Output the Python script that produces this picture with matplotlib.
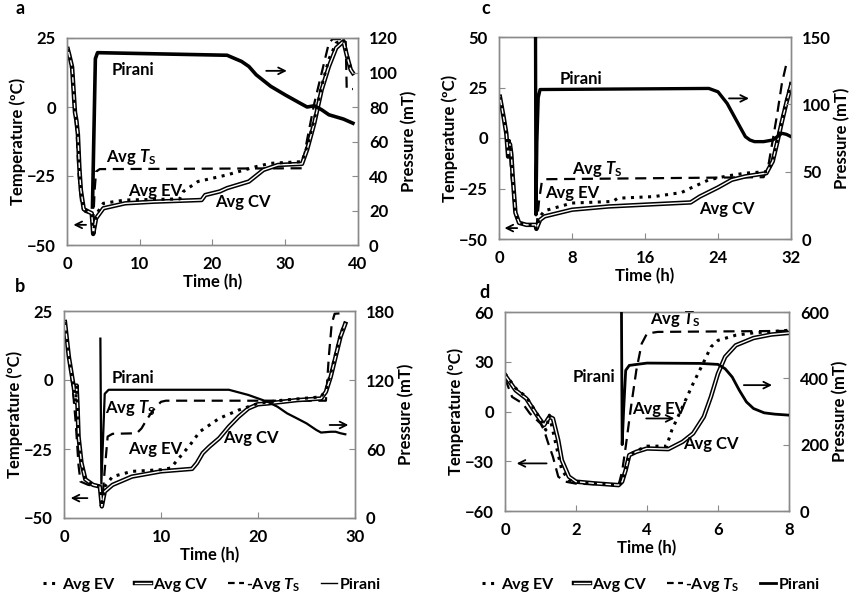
import matplotlib
matplotlib.use("Agg")
import matplotlib.pyplot as plt
import matplotlib.patheffects as pe
from matplotlib.lines import Line2D

plt.rcParams['font.family'] = ['Lato', 'DejaVu Sans']
plt.rcParams['font.weight'] = 'bold'
plt.rcParams['mathtext.fontset'] = 'custom'
plt.rcParams['mathtext.rm'] = 'Lato:bold'
plt.rcParams['mathtext.it'] = 'Lato:bold:italic'
plt.rcParams['mathtext.bf'] = 'Lato:bold'

# ---------------- Panel a ----------------
a_cv_t = [0.1, 0.3, 0.7, 1.1, 1.3, 1.5, 1.7, 1.9, 2.3, 3.0, 3.4, 3.6, 4.0, 5, 8, 12, 18.5, 19, 21, 22, 25, 27, 29, 32.3, 33, 34, 35, 36, 37, 38, 38.5, 39, 39.3]
a_cv = [21, 19, 14.5, -2, -5, -10, -22, -30, -37, -38, -38.5, -46, -40.3, -36.7, -34.9, -34.3, -33.7, -31.9, -30.6, -29.4, -27, -22.8, -21, -20.6, -15.5, -5.8, 6.2, 14.7, 21.4, 23.8, 18.3, 13.5, 12.3]
a_ev_t = [0.1, 0.3, 0.7, 1.1, 1.3, 1.5, 1.7, 1.9, 2.3, 3.0, 3.4, 3.6, 4.0, 5, 8, 15.5, 16, 18, 22, 26, 28, 32.3, 33, 34, 35, 36, 37, 38, 38.5, 39, 39.3]
a_ev = [21, 19, 14.5, -2, -5, -10, -22, -30, -37, -38, -38.5, -46, -39, -34.9, -33.7, -33.3, -30.6, -27, -24.6, -21.6, -20.4, -19.8, -14.3, -4.5, 7.6, 17.3, 23.2, 24.4, 19, 14, 12.5]
a_ts_t = [0.0, 0.3, 0.7, 1.0, 1.3, 1.6, 2.0, 2.5, 3.4, 3.55, 3.8, 4.0, 4.5, 32.3, 33, 34, 35, 36, 36.5, 38.3, 38.45, 39.3]
a_ts = [21, 18, 12, 0, -8, -25, -36, -38, -38.5, -45, -30, -23.4, -22.5, -22.2, -11.9, 1.4, 12.3, 23.2, 24.6, 24.6, 6.5, 6.5]
a_pir_t = [3.5, 3.9, 4.2, 22, 24, 25, 26, 28, 30, 32, 33, 34, 35, 36, 38, 39.3]
a_pir = [22, 108, 111.5, 110, 106.4, 103.5, 98.7, 92, 87, 82.3, 80, 80.7, 78.4, 75.5, 73, 70.6]

# ---------------- Panel b ----------------
b_cv_t = [0.1, 0.5, 1.0, 1.2, 1.3, 1.4, 1.5, 1.8, 2.2, 3.0, 3.7, 3.9, 4.2, 5, 7, 10, 13.2, 13.7, 14.3, 15, 16, 17, 18, 19, 20, 21, 24, 26.5, 27, 27.5, 28, 28.5, 29]
b_cv = [21, 8.4, -2.4, -8, -2, -10, -20.5, -30, -36, -38, -38.6, -45.8, -40.4, -38, -35, -33.1, -32.2, -30.1, -26.5, -24.1, -21.1, -16.9, -13.3, -10.3, -8.8, -8.5, -7.3, -6.7, -4.3, 1.2, 8.4, 15.6, 20.4]
b_ev_t = [0.1, 0.5, 1.0, 1.2, 1.3, 1.4, 1.5, 1.8, 2.2, 3.0, 3.7, 3.9, 4.2, 5, 7, 10, 11, 12, 13, 14, 16, 18, 20, 22, 26.5, 27, 27.5, 28, 28.5, 29]
b_ev = [21, 8.4, -2.4, -8, -2, -10, -20.5, -30, -36, -38, -38.6, -45.8, -38.6, -35, -33.1, -32.5, -31.9, -27.7, -23.5, -18.7, -13.9, -10.9, -8.5, -7.5, -6.1, -3.5, 2.5, 9.5, 16.5, 21]
b_ts_t = [0.1, 0.5, 0.9, 1.2, 1.5, 1.7, 2.5, 3.7, 3.9, 4.2, 4.5, 5, 7.5, 8, 8.5, 9.2, 10, 10.5, 27, 27.3, 27.6, 27.9, 29]
b_ts = [21, 8, -3, -15, -31, -36.8, -38, -38.6, -45.8, -32.5, -20.5, -19.5, -19.3, -17.5, -14.5, -10.9, -7.9, -7.5, -7.5, 8.4, 20.4, 24, 24.3]
b_pir_t = [3.75, 3.85, 4.2, 4.6, 17, 19, 20, 21, 22, 23, 24, 25, 26, 26.5, 27.5, 28, 28.5, 29]
b_pir = [156, 30, 108, 111.5, 111.5, 107, 104, 101, 96.8, 91, 86.7, 82.3, 76.6, 74.3, 75, 75, 73.7, 72.8]

# ---------------- Panel c ----------------
c_cv_t = [0.1, 0.5, 0.8, 1.0, 1.2, 1.35, 1.5, 1.8, 2.2, 3.0, 4.0, 4.1, 4.5, 5, 8, 12, 16, 21, 22, 24, 25.5, 27, 29.3, 30, 30.5, 31, 31.5, 32]
c_cv = [20.4, 10.5, 2.3, -9.2, -3, -8, -19, -37, -42, -43, -43, -45, -40.5, -38.8, -35.5, -33.9, -33, -31.9, -29, -24.5, -20.7, -19, -17.4, -11.5, -2, 8, 17.5, 26]
c_ev_t = [0.1, 0.5, 0.8, 1.0, 1.2, 1.35, 1.5, 1.8, 2.2, 3.0, 4.0, 4.1, 4.5, 5, 8, 12.5, 13, 17, 20, 21, 23, 25, 27, 29.5, 30, 30.5, 31, 31.5, 32]
c_ev = [20.4, 10.5, 2.3, -9.2, -3, -8, -19, -37, -42, -43, -43, -45, -38.8, -36, -32.2, -31.4, -29.8, -29, -27, -24.8, -20.7, -18.8, -17.4, -16.6, -10.9, -1, 8.9, 18.8, 27.8]
c_ts_t = [0.1, 0.4, 0.7, 1.0, 1.15, 1.3, 1.5, 1.8, 2.2, 3.0, 4.0, 4.1, 4.2, 4.4, 4.7, 5, 29, 29.5, 30, 30.5, 31, 31.5, 31.8]
c_ts = [21, 12, 5, -8, -1, -15, -25, -38, -42, -43, -43, -45, -40, -30.6, -21.5, -20.4, -19.4, -14.1, -1, 12.2, 27, 36.8, 38.5]
c_pir_t = [4.0, 4.05, 4.15, 4.3, 4.5, 23, 24, 25, 26, 27, 27.5, 28, 29, 30, 30.5, 31, 31.5, 32]
c_pir = [160, 18, 72, 105, 111, 111.8, 109.3, 100.7, 88.3, 76, 73.5, 72.3, 72.3, 73.5, 76, 78.5, 77.7, 76]

# ---------------- Panel d ----------------
d_cv_t = [0, 0.3, 0.6, 0.9, 1.1, 1.25, 1.35, 1.5, 1.6, 1.8, 2, 2.5, 3.2, 3.3, 3.4, 3.5, 3.7, 4, 4.6, 5, 5.3, 5.6, 5.8, 6, 6.2, 6.5, 7, 7.5, 8]
d_cv = [21.9, 12.8, 7.8, -2.2, -8.2, -3.2, -4.2, -17.3, -29.3, -39.3, -42.3, -43.3, -44.4, -42.3, -35.3, -26.3, -24.3, -22.3, -22.7, -18.3, -13.2, -3.2, 8.8, 22.9, 32.9, 39.9, 44.3, 46.4, 47.4]
d_ev_t = [0, 0.3, 0.6, 0.9, 1.15, 1.25, 1.45, 1.6, 1.8, 2, 3.2, 3.3, 3.5, 3.7, 4, 4.55, 4.7, 5, 5.3, 5.6, 5.8, 6, 6.5, 7, 8]
d_ev = [22.9, 14, 8.8, -1.2, -11.2, -2.2, -21.3, -35.3, -41.3, -42.7, -44.4, -42.3, -26.3, -23.7, -20.9, -20.9, -11.2, 2.8, 16.9, 29.9, 38.9, 42.9, 46, 47.4, 49]
d_ts_t = [0, 0.2, 0.5, 0.7, 1.0, 1.1, 1.2, 1.35, 1.5, 1.7, 2.0, 3.2, 3.3, 3.4, 3.55, 3.7, 3.85, 4, 4.3, 8]
d_ts = [19.9, 8.8, 4.8, -1.2, -7.2, -11.2, -18, -27.3, -39.3, -42.3, -43.5, -44.4, -36, -21.3, 2.8, 24.9, 40.9, 47, 48, 48.6]
d_pir_t = [3.28, 3.3, 3.34, 3.4, 3.5, 4, 5.5, 6, 6.2, 6.4, 6.6, 6.8, 7, 7.3, 7.6, 8]
d_pir = [620, 200, 300, 424, 439, 446, 445, 442, 429, 404, 364, 329, 309, 296, 292, 289]

panels = [
    dict(letter='a', rect=(67, 38, 358, 245), xlim=(0, 40), xticks=[0, 10, 20, 30, 40],
         ylim=(-50, 25), yticks=[-50, -25, 0, 25], plim=(0, 120), pticks=[0, 20, 40, 60, 80, 100, 120],
         cv=(a_cv_t, a_cv), ev=(a_ev_t, a_ev), ts=(a_ts_t, a_ts), pir=(a_pir_t, a_pir), pir_lw=2.6,
         labels=[('Pirani', 9.1, 13.5), ('Avg $\\mathit{T}_\\mathrm{S}$', 8.8, -18), ('Avg EV', 12.1, -30.6), ('Avg CV', 24.2, -34.3)],
         arrows=[((0.5, -42.7), (3.0, -42.7)), ((30.6, 13.1), (27.0, 13.1))],
         letter_pos=(15, 9), legend=None),
    dict(letter='b', rect=(64, 311, 355, 518), xlim=(0, 30), xticks=[0, 10, 20, 30],
         ylim=(-50, 25), yticks=[-50, -25, 0, 25], plim=(0, 180), pticks=[0, 60, 120, 180],
         cv=(b_cv_t, b_cv), ev=(b_ev_t, b_ev), ts=(b_ts_t, b_ts), pir=(b_pir_t, b_pir), pir_lw=1.6,
         labels=[('Pirani', 7.1, 0.9), ('Avg $\\mathit{T}_\\mathrm{S}$', 6.8, -10.3), ('Avg EV', 9.4, -25.1), ('Avg CV', 19.3, -21.1)],
         arrows=[((0.4, -42.8), (2.7, -42.8)), ((29.6, -16.3), (27.1, -16.3))],
         letter_pos=(15, 287), legend=(212, 1.0)),
    dict(letter='c', rect=(499, 37, 791, 239), xlim=(0, 32), xticks=[0, 8, 16, 24, 32],
         ylim=(-50, 50), yticks=[-50, -25, 0, 25, 50], plim=(0, 150), pticks=[0, 50, 100, 150],
         cv=(c_cv_t, c_cv), ev=(c_ev_t, c_ev), ts=(c_ts_t, c_ts), pir=(c_pir_t, c_pir), pir_lw=2.4,
         labels=[('Pirani', 9.0, 29.4), ('Avg $\\mathit{T}_\\mathrm{S}$', 10.8, -15.5), ('Avg EV', 8.0, -27.3), ('Avg CV', 25.0, -35.2)],
         arrows=[((0.3, -44.6), (2.3, -44.6)), ((27.7, 19.6), (24.9, 19.6))],
         letter_pos=(481, 9), legend=None),
    dict(letter='d', rect=(505, 312, 789, 511), xlim=(0, 8), xticks=[0, 2, 4, 6, 8],
         ylim=(-60, 60), yticks=[-60, -30, 0, 30, 60], plim=(0, 600), pticks=[0, 200, 400, 600],
         cv=(d_cv_t, d_cv), ev=(d_ev_t, d_ev), ts=(d_ts_t, d_ts), pir=(d_pir_t, d_pir), pir_lw=2.0,
         labels=[('Pirani', 2.5, 20.9), ('Avg $\\mathit{T}_\\mathrm{S}$', 4.8, 55.5), ('Avg EV', 4.35, 1.8), ('Avg CV', 5.8, -19.3)],
         arrows=[((0.25, -31.3), (1.25, -31.3)), ((7.6, 15.9), (6.65, 15.9)), ((4.85, -4.2), (3.9, -4.2))],
         letter_pos=(479, 293), legend=(651, 2.0)),
]

W, H = 852, 594
fig = plt.figure(figsize=(W / 100, H / 100), dpi=100)
GRAY = '#8a8a8a'
FS = 12

for p in panels:
    l, t, r, b = p['rect']
    ax = fig.add_axes([l / W, 1 - b / H, (r - l) / W, (b - t) / H])
    ax2 = ax.twinx()
    ax.set_xlim(*p['xlim'])
    ax.set_ylim(*p['ylim'])
    ax2.set_ylim(*p['plim'])
    ax.set_xticks(p['xticks'])
    ax.set_yticks(p['yticks'])
    ax2.set_yticks(p['pticks'])
    ax.set_yticklabels([str(v).replace('-', '\u2212') for v in p['yticks']])
    for a_ in (ax, ax2):
        for s in a_.spines.values():
            s.set_color(GRAY)
            s.set_linewidth(1.0)
        a_.tick_params(direction='in', length=4, color=GRAY, labelsize=FS, pad=8)
    ax.set_xlabel('Time (h)', fontsize=FS, fontweight='bold', labelpad=1)
    ax.set_ylabel('Temperature (\u00baC)', fontsize=FS, fontweight='bold', labelpad=1)
    ax2.set_ylabel('Pressure (mT)', fontsize=FS, fontweight='bold', labelpad=2)

    ax.plot(*p['ts'], color='black', lw=1.6, ls=(0, (5, 3)), zorder=3)
    ax.plot(*p['cv'], color='white', lw=1.0, zorder=4,
            path_effects=[pe.Stroke(linewidth=3.2, foreground='black'), pe.Normal()])
    ax.plot(*p['ev'], color='black', lw=2.2, ls=(0, (1, 1.8)), zorder=5)
    ax2.plot(*p['pir'], color='black', lw=p['pir_lw'], zorder=3)

    for txt, x, y in p['labels']:
        ax.text(x, y, txt, fontsize=FS, fontweight='bold', ha='center', va='center', zorder=6)
    for tip, tail in p['arrows']:
        ax.annotate('', xy=tip, xytext=tail,
                    arrowprops=dict(arrowstyle='->', lw=1.3, color='black', mutation_scale=12), zorder=6)

    lx, ly = p['letter_pos']
    fig.text(lx / W, 1 - ly / H, p['letter'], fontsize=13, fontweight='bold', ha='left', va='center')

    if p['legend'] is not None:
        cxp, plw = p['legend']
        handles = [
            Line2D([], [], color='black', lw=2.2, ls=(0, (1, 1.8))),
            Line2D([], [], color='white', lw=1.0,
                   path_effects=[pe.Stroke(linewidth=3.2, foreground='black'), pe.Normal()]),
            Line2D([], [], color='black', lw=1.6, ls=(0, (3, 2))),
            Line2D([], [], color='black', lw=plw),
        ]
        names = ['Avg EV', 'Avg CV', '-Avg $\\mathit{T}_\\mathrm{S}$', 'Pirani']
        fig.legend(handles, names, loc='center', bbox_to_anchor=(cxp / W, 1 - 585 / H), ncol=4,
                   frameon=False, fontsize=11.5, handlelength=1.0, handletextpad=0.15, columnspacing=1.3)

fig.savefig('out.png', dpi=100)
